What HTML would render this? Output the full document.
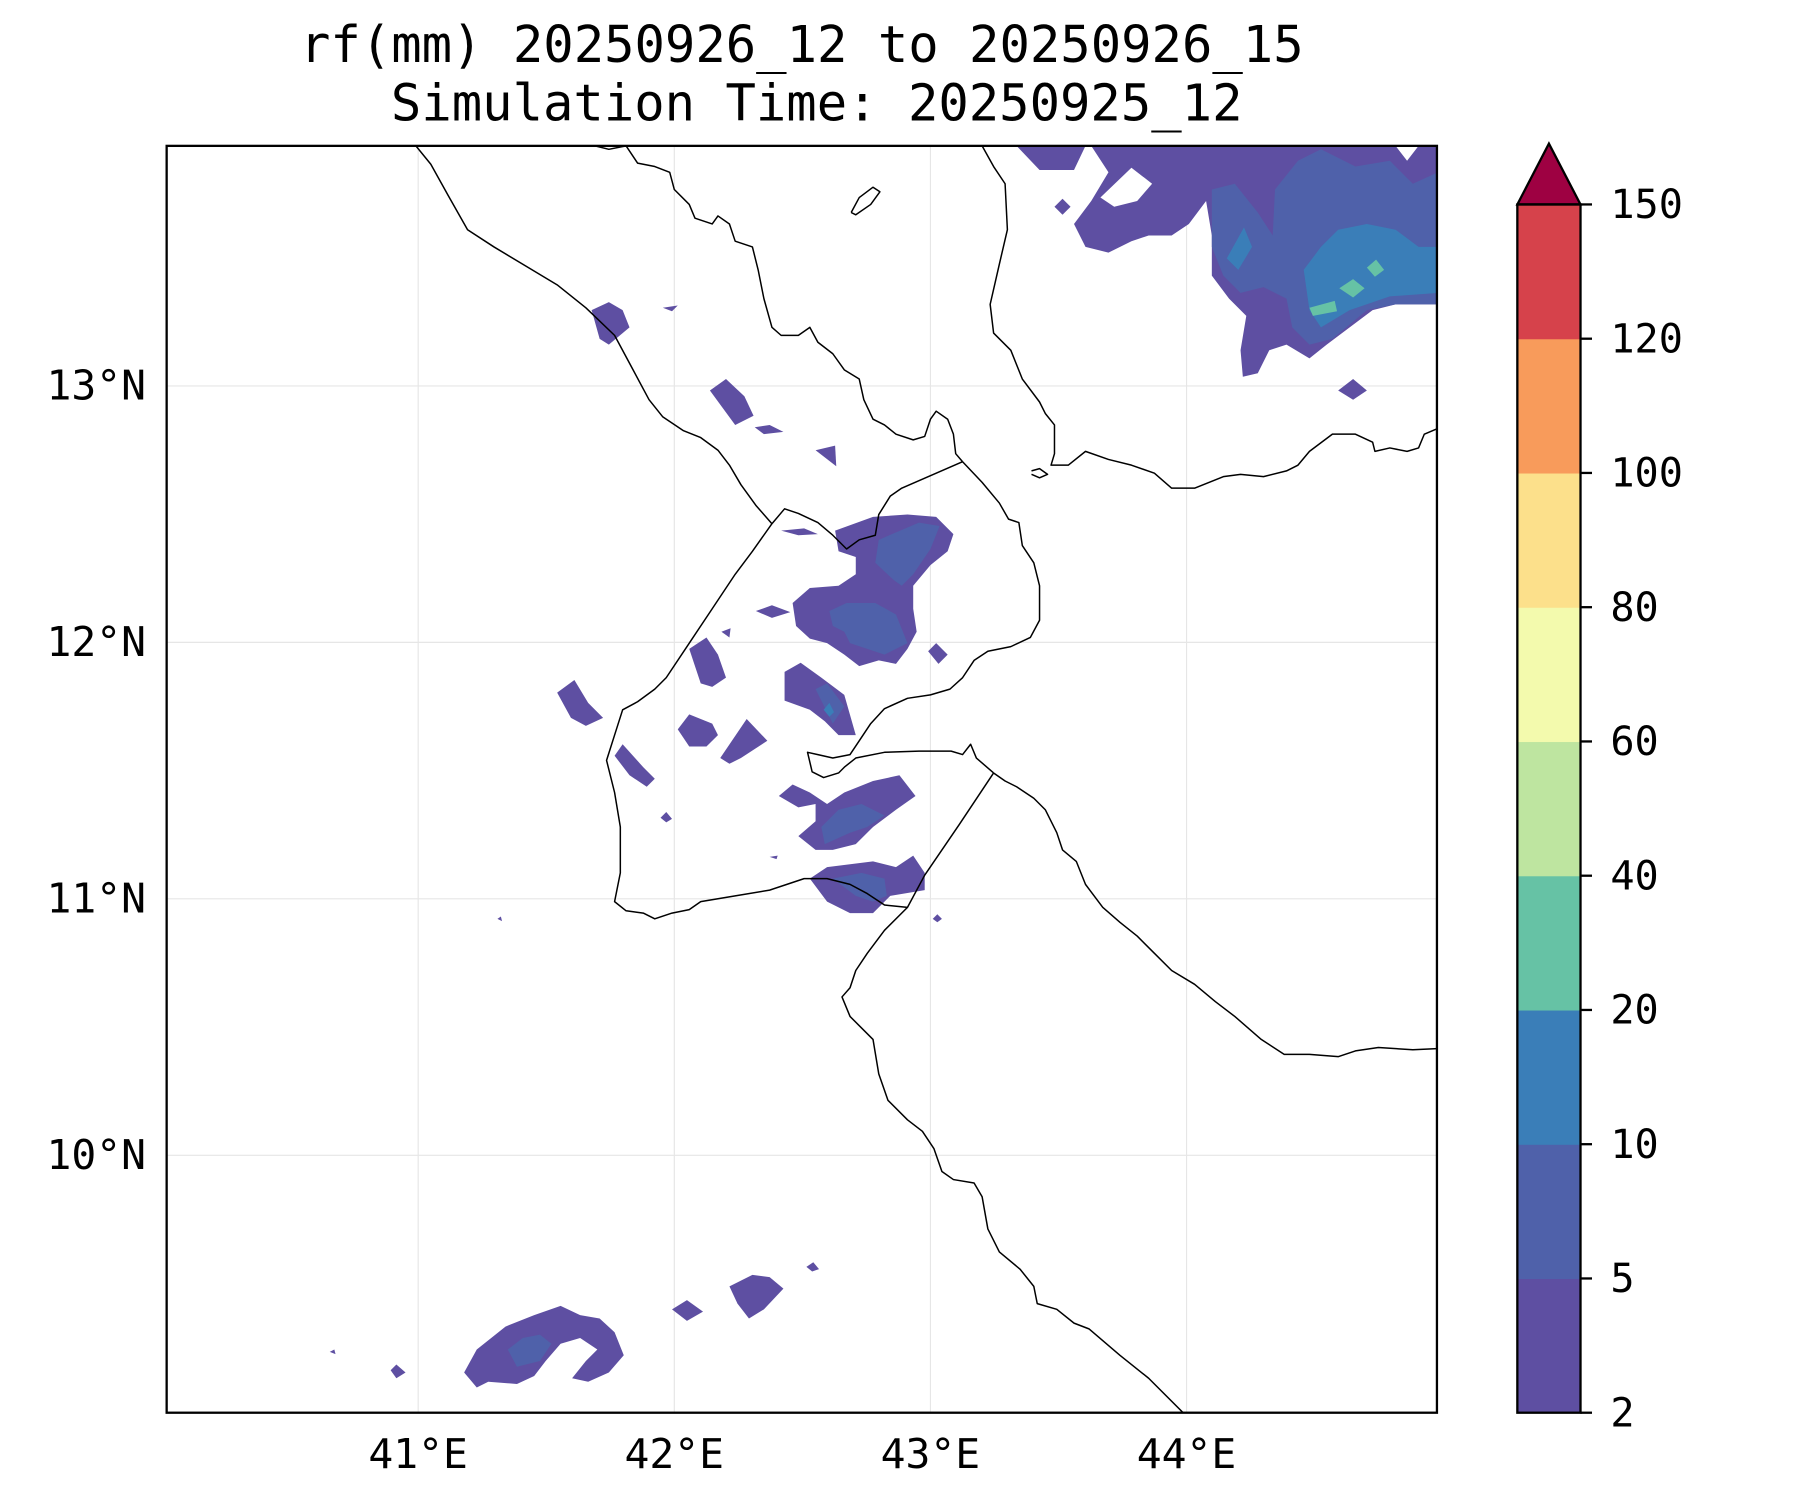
<!DOCTYPE html>
<html><head><meta charset="utf-8"><style>
html,body{margin:0;padding:0;background:#fff;}
svg{display:block;}
text{font-family:"DejaVu Sans Mono","Liberation Mono",monospace;fill:#000;}
</style></head><body>
<svg id="fig" width="1800" height="1500" viewBox="0 0 1567 1306" xmlns="http://www.w3.org/2000/svg">
<rect width="1567" height="1306" fill="#fff"/>
<text x="698" y="54" font-size="44" text-anchor="middle">rf(mm) 20250926_12 to 20250926_15</text>
<text x="711" y="105" font-size="44" text-anchor="middle">Simulation Time: 20250925_12</text>
<defs><clipPath id="ax"><rect x="145" y="127" width="1106" height="1103"/></clipPath></defs>
<g id="grid"></g>
<g id="rain" clip-path="url(#ax)"></g>
<g id="coast" clip-path="url(#ax)" fill="none" stroke="#000" stroke-width="1.3" stroke-linejoin="round"></g>
<rect x="145" y="127" width="1106" height="1103" fill="none" stroke="#000" stroke-width="2"/>
<g id="ticks"></g>
<g id="cbar"></g>
</svg>
<script>
const levels=[2,5,10,20,40,60,80,100,120,150];
const levelColors=["#5e4fa2","#4f61aa","#3a7eb8","#66c2a5","#bee5a0","#f3faad","#fce08b","#f89b5b","#d6424b"];
const extendColor="#9e0142";
const lonTicks=[41,42,43,44];
const latTicks=[13,12,11,10];
function xLon(l){return 364+(l-41)*223;}
function yLat(l){return 336+(13-l)*223.3;}
const NS="http://www.w3.org/2000/svg";
function mk(tag,attrs,parent){const e=document.createElementNS(NS,tag);for(const k in attrs)e.setAttribute(k,attrs[k]);parent.appendChild(e);return e;}
const grid=document.getElementById('grid'),ticks=document.getElementById('ticks');
lonTicks.forEach(l=>{
 const ln=mk('line',{x1:xLon(l),x2:xLon(l),y1:127,y2:1230,stroke:'#e6e6e6','stroke-width':1},grid);
 
 
 const t=mk('text',{x:xLon(l),y:1278,'font-size':36,'text-anchor':'middle'},ticks);t.textContent=l+'°E';
 
 
});
latTicks.forEach(l=>{
 const ln=mk('line',{x1:145,x2:1251,y1:yLat(l),y2:yLat(l),stroke:'#e6e6e6','stroke-width':1},grid);
 
 
 const t=mk('text',{x:127,y:yLat(l)+12,'font-size':36,'text-anchor':'end'},ticks);t.textContent=l+'°N';
 
 
});
const cb=document.getElementById('cbar');const cx0=1321,cx1=1376,cyB=1230,cyT=178;
const step=(cyB-cyT)/(levels.length-1);
function yLev(i){return cyB-i*step;}
levelColors.forEach((c,i)=>{
 const r=mk('rect',{x:cx0,y:yLev(i+1),width:cx1-cx0,height:step+0.5,fill:c},cb);
 
 
});
const tri=mk('polygon',{points:`${cx0},${cyT} ${cx1},${cyT} ${(cx0+cx1)/2},125`,fill:extendColor,stroke:'#000','stroke-width':2},cb);


const fr=mk('rect',{x:cx0,y:cyT,width:cx1-cx0,height:cyB-cyT,fill:'none',stroke:'#000','stroke-width':2},cb);


levels.forEach((v,i)=>{
 mk('line',{x1:cx1,x2:cx1+10,y1:yLev(i),y2:yLev(i),stroke:'#000','stroke-width':2},cb);
 const t=mk('text',{x:1402,y:yLev(i)+12,'font-size':35},cb);t.textContent=v;
 
 
});
const coastPaths=[
"362,127 375,143 390,170 407,200 430,215 460,233 485,248 510,268 535,292 550,320 565,348 577,363 595,375 610,381 625,392 635,405 645,422 658,440 672,456",
"672,456 683,443 695,447 712,455 725,466 737,478 748,470 762,466 765,448 775,432 785,425 838,402",
"838,402 855,420 870,438 878,452 887,455 890,475 900,490 905,510 905,540 897,555 880,563 860,567 848,575 838,590 827,600 810,605 790,608 770,617 758,630 748,645 740,657 725,660 712,657 703,655 707,672 717,677 730,673 735,668 745,660 770,655 800,654 828,654 838,657 845,648 850,660 865,673",
"865,673 835,718 805,762 790,790 770,788 755,778 740,770 720,765 700,765 685,770 670,775 640,780 610,785 600,792 585,795 570,800 560,795 545,793 535,785 540,760 540,720 535,690 528,662 535,640 542,618 555,611 570,600 580,590 600,560 620,530 640,500 655,480 672,456",
"518,127 530,130 545,127 555,142 570,145 583,150 587,165 600,178 605,190 620,195 625,188 635,195 640,210 655,215 660,235 665,260 672,285 680,292 695,292 705,285 712,298 725,308 735,322 748,330 752,348 760,365 770,370 780,378 795,383 805,380 810,365 815,358 825,365 830,378 832,395 838,402",
"855,127 865,145 875,160 877,200 870,230 862,265 865,290 880,305 890,330 905,350 910,360 918,370 918,395 915,405 930,405 945,393 965,400 985,405 1005,412 1020,425 1040,425 1065,415 1080,413 1100,415 1120,410 1130,405 1140,393 1160,378 1180,378 1195,385 1197,393 1210,390 1225,393 1235,390 1240,378 1252,373",
"865,673 875,680 885,685 900,695 910,705 915,715 920,725 925,740 937,750 945,770 960,790 975,803 990,815 1005,830 1020,845 1040,857 1058,872 1075,885 1098,905 1118,918 1140,918 1165,920 1180,915 1200,912 1230,914 1252,913",
"790,790 770,810 755,830 745,845 740,860 733,868 740,885 760,905 765,935 773,958 790,975 803,985 813,1000 820,1020 830,1027 848,1030 855,1042 860,1070 870,1090 888,1105 900,1120 903,1135 920,1140 935,1152 948,1157 975,1180 1000,1200 1032,1232",
"741,185 748,172 760,163 766,167 758,178 745,187 741,185",
"898,410 905,408 912,413 905,416 898,413"
];
const coast=document.getElementById('coast');
coastPaths.forEach(p=>{const e=mk('polyline',{points:p},coast);
 
 });
const rainPolys=[
[0,"885,127 905,148 935,148 945,127"],
[0,"950,127 965,150 950,175 935,195 945,215 965,220 985,210 1000,205 1020,205 1035,195 1050,175 1055,205 1055,240 1070,260 1085,275 1080,305 1082,328 1095,325 1105,305 1120,300 1140,312 1155,300 1175,285 1195,270 1215,265 1252,265 1252,127"],
[-1,"958,172 985,146 1003,160 990,175 970,180"],
[-1,"1215,127 1225,140 1235,127"],
[1,"1055,165 1075,160 1095,185 1108,205 1110,165 1130,140 1150,130 1180,145 1210,140 1230,160 1252,150 1252,265 1215,265 1190,270 1160,295 1140,300 1125,285 1120,260 1100,250 1080,255 1065,240 1055,215"],
[2,"1135,235 1150,215 1165,200 1190,195 1215,200 1235,215 1252,215 1252,255 1210,258 1175,270 1150,285 1140,270"],
[2,"1068,225 1083,198 1090,215 1078,235"],
[3,"1140,268 1162,262 1164,271 1143,275"],
[3,"1166,251 1178,243 1188,251 1178,259"],
[3,"1190,233 1198,226 1205,235 1197,241"],
[0,"918,180 925,173 932,180 925,187"],
[0,"1165,340 1178,330 1190,340 1178,348"],
[0,"515,270 530,263 542,270 548,285 530,300 522,295"],
[0,"577,268 590,266 585,271"],
[0,"618,340 632,330 648,345 656,362 640,370"],
[0,"657,372 670,370 682,376 665,378"],
[0,"710,392 727,388 728,406"],
[0,"680,462 700,460 712,465 695,466"],
[0,"727,462 760,450 790,448 815,450 830,465 825,480 810,492 795,510 795,530 798,550 790,565 780,578 765,575 748,580 735,570 720,560 705,556 693,545 690,525 705,512 730,510 745,500 745,485 730,480"],
[1,"765,470 800,455 818,458 810,478 795,500 785,510 778,505 762,490"],
[1,"722,532 737,525 762,525 780,535 790,560 770,570 755,565 740,560 735,550 725,545"],
[0,"658,532 672,527 688,533 672,538"],
[0,"628,550 636,547 635,555"],
[0,"600,565 615,555 625,570 632,590 620,598 610,595"],
[0,"683,585 697,577 715,590 735,605 745,640 730,640 718,628 705,618 683,610"],
[1,"710,600 720,595 735,615 725,630"],
[2,"717,618 722,612 726,620 722,624"],
[0,"808,567 815,560 825,570 817,578"],
[0,"485,603 500,592 512,612 525,625 510,632 497,625"],
[0,"590,635 600,622 620,630 625,640 615,650 600,650"],
[0,"627,660 650,626 668,645 645,660 635,665"],
[0,"535,658 542,648 560,668 570,678 563,685 548,675"],
[0,"575,712 580,707 585,713 580,716"],
[0,"678,693 690,683 705,690 720,700 735,690 760,680 783,675 797,693 780,705 760,720 745,735 725,740 710,740 695,728 710,715 710,700 695,703"],
[1,"715,720 730,705 750,700 770,710 755,720 740,725 718,735"],
[0,"670,746 677,745 676,748"],
[0,"705,765 720,755 760,750 780,755 795,745 805,760 805,775 775,780 760,795 740,795 720,785"],
[1,"725,765 750,760 770,765 772,780 760,785 745,780"],
[0,"812,800 816,796 820,800 816,803"],
[0,"433,800 436,798 437,802"],
[0,"404,1195 415,1175 440,1155 465,1145 488,1137 505,1145 522,1148 535,1160 543,1180 530,1195 512,1203 498,1200 510,1185 520,1175 505,1165 488,1170 475,1185 465,1198 450,1205 425,1203 415,1208"],
[1,"442,1175 455,1165 470,1162 480,1170 470,1185 450,1190"],
[0,"340,1193 345,1188 353,1195 345,1200"],
[0,"287,1177 291,1175 292,1179"],
[0,"585,1140 598,1132 612,1142 598,1150"],
[0,"635,1120 655,1110 670,1112 682,1122 665,1140 652,1148 642,1135"],
[0,"702,1103 708,1099 713,1105 707,1107"]
];
const rain=document.getElementById('rain');
rainPolys.forEach(([li,p])=>{
 const e=mk('polygon',{points:p,fill:li<0?'#fff':levelColors[li]},rain);
 
 
});
</script>
</body></html>
